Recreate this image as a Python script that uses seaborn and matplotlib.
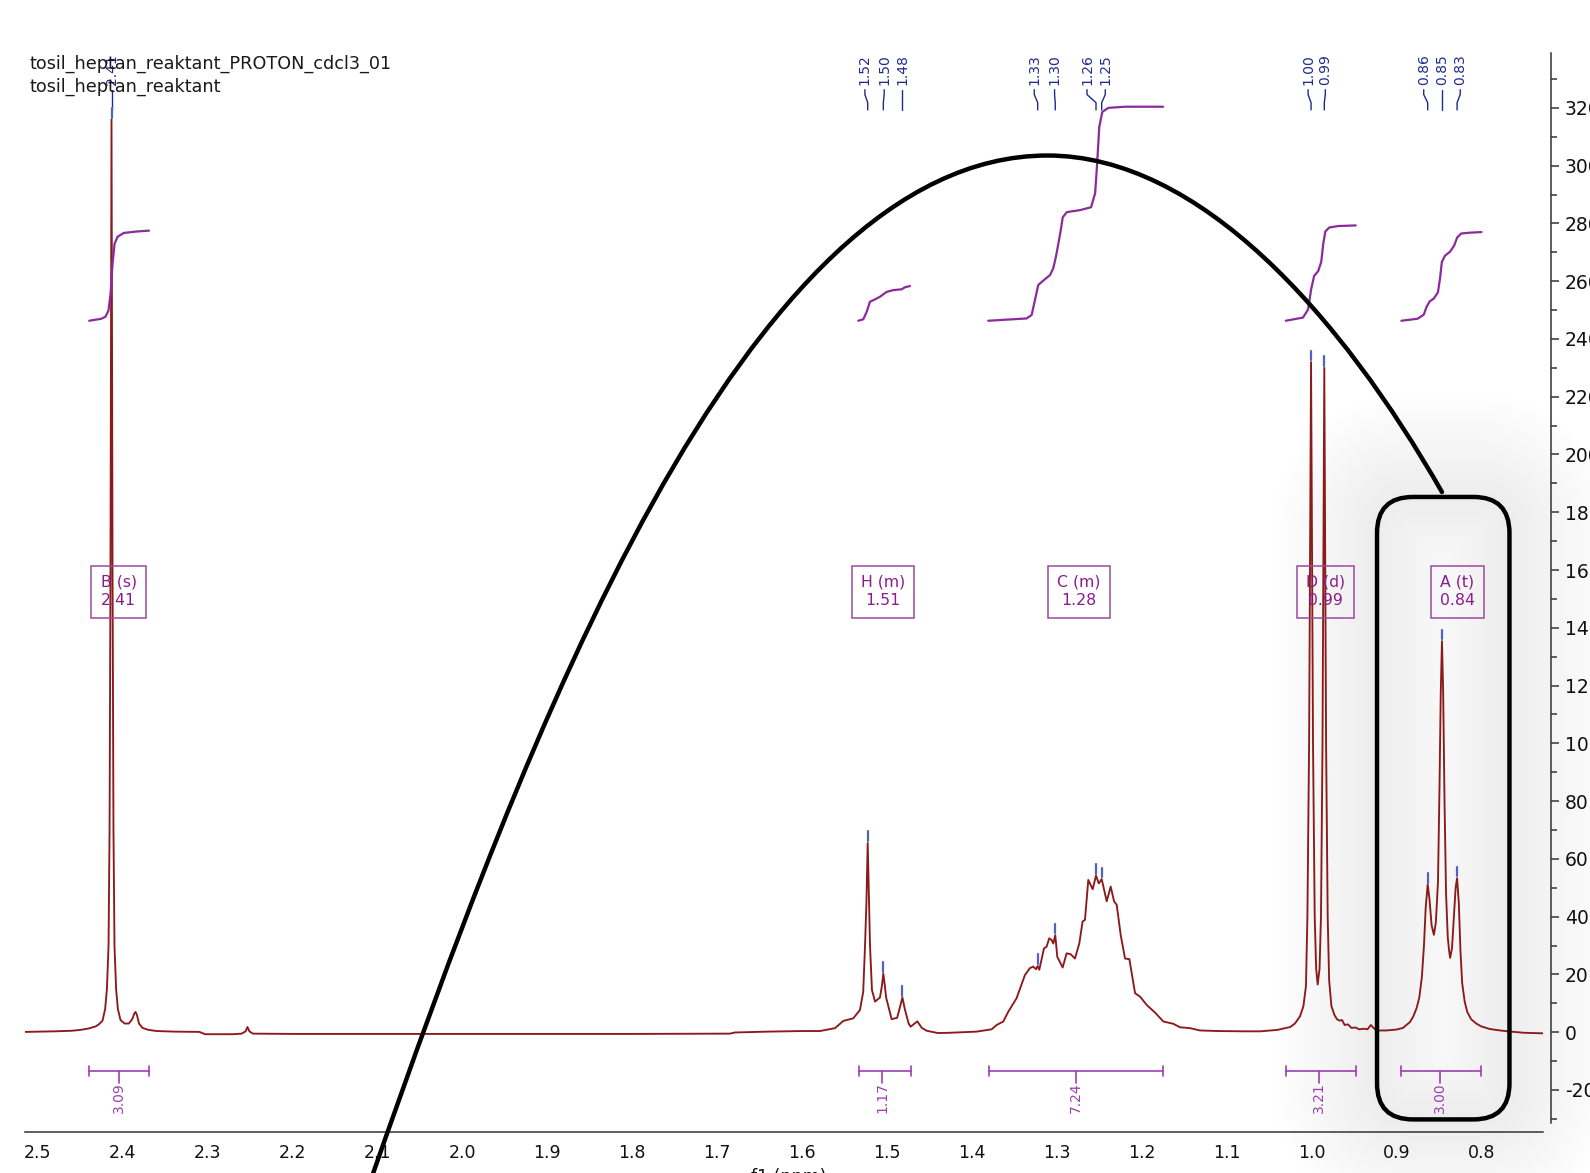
import matplotlib
matplotlib.use("Agg")
import numpy as np
import matplotlib.pyplot as plt
import seaborn as sns
from matplotlib.path import Path
from matplotlib.patches import PathPatch, FancyBboxPatch
from matplotlib.transforms import IdentityTransform
from matplotlib.ticker import MultipleLocator, FormatStrFormatter

# ---- data (ppm, intensity) ----
title_lines = ["tosil_heptan_reaktant_PROTON_cdcl3_01", "tosil_heptan_reaktant"]

spec_ppm = [
    2.515, 2.48, 2.46, 2.45, 2.44, 2.432, 2.428, 2.424, 2.4209, 2.4188, 2.4169, 2.4157, 2.4146,
    2.4134, 2.4122, 2.4111, 2.4099, 2.408, 2.4059, 2.4028, 2.398, 2.393, 2.389, 2.3865, 2.385,
    2.3835, 2.381, 2.377, 2.37, 2.36, 2.34, 2.31, 2.303, 2.27, 2.26, 2.2555, 2.2533, 2.251,
    2.247, 2.2, 2.0, 1.8, 1.685, 1.679, 1.64, 1.60,
    1.5789, 1.5612, 1.5515, 1.5397, 1.5318, 1.528, 1.5259, 1.5242, 1.5227, 1.5212, 1.5200,
    1.5177, 1.5141, 1.5083, 1.5060, 1.5043, 1.5025, 1.5010, 1.4945, 1.4880, 1.4845, 1.4818,
    1.4790, 1.4745, 1.4721, 1.4643, 1.4590, 1.4532, 1.44,
    1.4258, 1.3944, 1.3767, 1.3708, 1.3630, 1.3571, 1.3473, 1.3375, 1.3316, 1.3277, 1.3245,
    1.3225, 1.3206, 1.3151, 1.3120, 1.3089, 1.3060, 1.3041, 1.3018, 1.2994, 1.2931, 1.2884,
    1.2837, 1.2786, 1.2735, 1.2696, 1.2668, 1.2629, 1.2577, 1.2538, 1.2505, 1.2471, 1.2412,
    1.2365, 1.2325, 1.2294, 1.2247, 1.2196, 1.2145, 1.2078, 1.2019, 1.1940, 1.1843, 1.1745,
    1.1627, 1.1549, 1.1431, 1.1313, 1.11, 1.08,
    1.06, 1.04, 1.025, 1.0195, 1.0135, 1.0095, 1.0065, 1.0048, 1.0028, 1.0005, 0.9982, 0.9962,
    0.9945, 0.9927, 0.9905, 0.9888, 0.9870, 0.9849, 0.9828, 0.9809, 0.9792, 0.9765, 0.973,
    0.970, 0.967, 0.964, 0.961, 0.957, 0.953, 0.948, 0.944, 0.938, 0.934, 0.930, 0.927, 0.923,
    0.912, 0.900,
    0.892, 0.889, 0.884, 0.880, 0.876, 0.873, 0.870, 0.8675, 0.8655, 0.8631, 0.861, 0.8585,
    0.8558, 0.8535, 0.851, 0.8492, 0.8477, 0.8463, 0.8449, 0.8433, 0.8415, 0.8395, 0.838, 0.8367,
    0.8345, 0.8322, 0.8302, 0.8285, 0.8265, 0.8245, 0.8225, 0.8195, 0.8165, 0.812, 0.806,
    0.800, 0.790, 0.778, 0.765, 0.75, 0.727,
]
spec_int = [
    0.1, 0.3, 0.5, 0.8, 1.3, 2.0, 2.8, 4.0, 8.0, 15, 30, 70, 160,
    316, 160, 70, 30, 15, 8.0, 4.2, 3.0, 3.0, 4.5, 6.5, 7.0,
    6.0, 3.0, 1.5, 0.8, 0.4, 0.2, 0.1, -0.7, -0.7, -0.5, 0.3, 1.8, 0.3,
    -0.5, -0.6, -0.6, -0.6, -0.5, -0.1, 0.2, 0.4,
    0.4, 1.4, 3.9, 4.8, 7.7, 14, 29.6, 45, 65.5, 45, 30,
    14.6, 10.6, 12, 16, 20.3, 16, 12, 4.5, 5.0, 9.0, 12,
    8.0, 3.0, 1.9, 3.75, 1.5, 0.5, -0.3,
    -0.2, 0.2, 1.0, 2.5, 3.7, 7.1, 11.8, 19.8, 22.2, 22.7, 21.8,
    22.9, 21.6, 29.0, 29.6, 32.5, 31.9, 30.7, 33.6, 26.1, 22.4, 27.3,
    27.0, 25.5, 30.7, 38.3, 38.9, 52.7, 49.5, 54.2, 51.5, 53.0, 45.3,
    50.4, 45.3, 44.1, 33.6, 25.5, 25.3, 13.5, 12.3, 9.4, 6.8, 3.7,
    2.9, 1.7, 1.4, 0.6, 0.4, 0.3,
    0.3, 0.8, 1.8, 3.0, 5.5, 9.0, 16, 40, 100, 232, 100, 40,
    22, 16.5, 22, 40, 100, 230, 100, 40, 18, 9.0, 6.0,
    4.5, 4.0, 4.2, 2.5, 2.7, 1.5, 1.6, 1.0, 1.2, 1.0, 2.5, 1.5, 0.6,
    0.6, 0.9,
    1.5, 2.3, 3.5, 5.5, 8.5, 12, 19, 30, 43, 51.2, 46, 37,
    33.7, 38, 52, 85, 118, 135.4, 118, 80, 48, 33, 28.5, 25.7,
    29, 40, 50, 53.3, 45, 28, 17, 10.5, 7.0, 4.5, 3.0,
    2.0, 1.1, 0.6, 0.2, -0.2, -0.4,
]

# integral curves
intB_ppm = [2.4397, 2.4253, 2.4205, 2.4170, 2.4146, 2.4122, 2.4098, 2.4062, 2.3990, 2.3835, 2.3692]
intB_val = [246.3, 247.0, 247.7, 249.8, 255.4, 266.0, 273.0, 275.4, 276.7, 277.2, 277.5]
intH_ppm = [1.5338, 1.5279, 1.5239, 1.5200, 1.5141, 1.5083, 1.5004, 1.4926, 1.4827, 1.4788, 1.4729]
intH_val = [246.3, 246.8, 249.4, 252.9, 253.7, 254.6, 256.3, 256.9, 257.2, 257.9, 258.3]
intC_ppm = [1.3807, 1.3356, 1.3296, 1.3257, 1.3218, 1.3159, 1.3080, 1.3041, 1.3010, 1.2975,
            1.2950, 1.2930, 1.2882, 1.2727, 1.2596, 1.2548, 1.2524, 1.2500, 1.2464, 1.2393,
            1.2190, 1.1748]
intC_val = [246.3, 247.1, 248.3, 253.5, 258.7, 260.2, 262.1, 264.5, 268.5, 274.0,
            278.2, 282.1, 283.9, 284.6, 285.6, 290.5, 301.0, 313.3, 318.6, 320.0,
            320.4, 320.4]
intD_ppm = [1.0303, 1.0100, 1.0040, 1.0004, 0.9969, 0.9921, 0.9885, 0.9861, 0.9837, 0.9790,
            0.9682, 0.9479]
intD_val = [246.3, 247.4, 250.2, 257.2, 261.8, 263.5, 266.7, 273.0, 277.2, 278.6, 279.1, 279.3]
intA_ppm = [0.8941, 0.8750, 0.8678, 0.8643, 0.8607, 0.8559, 0.8511, 0.8487, 0.8464, 0.8428,
            0.8368, 0.8320, 0.8284, 0.8237, 0.8129, 0.7998]
intA_val = [246.3, 247.0, 248.4, 251.2, 253.0, 254.0, 256.1, 260.7, 266.7, 268.8,
            270.2, 272.3, 275.1, 276.5, 276.8, 277.0]

# integration ranges (bottom)
integ_lo = [2.4397, 1.5331, 1.3802, 1.0303, 0.8941]
integ_hi = [2.3692, 1.4722, 1.1748, 0.9479, 0.7998]
integ_mid = [2.4050, 1.5056, 1.2775, 0.9908, 0.8487]
integ_text = ["3.09", "1.17", "7.24", "3.21", "3.00"]

# multiplet boxes
mult_text = ["B (s)\n2.41", "H (m)\n1.51", "C (m)\n1.28", "D (d)\n0.99", "A (t)\n0.84"]
mult_ppm = [2.4050, 1.5045, 1.2739, 0.9837, 0.8284]

# peak picking
pick_text = ["2.41", "1.52", "1.50", "1.48", "1.33", "1.30", "1.26", "1.25",
             "1.00", "0.99", "0.86", "0.85", "0.83"]
pick_ppm = [2.4134, 1.5227, 1.5043, 1.4818, 1.3225, 1.3018, 1.2538, 1.2471,
            1.0005, 0.9849, 0.8631, 0.8463, 0.8285]
pick_height = [316, 65.5, 20.3, 12, 22.9, 33.6, 54.2, 53.0, 232, 230, 51.2, 135.4, 53.3]
pick_label_ppm = [2.4134, 1.5260, 1.5033, 1.4818, 1.3265, 1.3026, 1.2644, 1.2429,
                  1.0040, 0.9837, 0.8678, 0.8463, 0.8248]

# hand-drawn highlight (bezier control points) and highlight box, in data units
arc_ppm = [2.1064, 1.9273, 1.6693, 1.3109, 1.1318, 0.9658, 0.8463]
arc_val = [-49.8, 100.7, 303.5, 303.5, 303.5, 248.4, 187.0]
box_ppm = [0.9228, 0.7668]
box_val = [185.3, -30.2]

# ---- styling ----
SPEC_COLOR = "#8b1a1a"
INT_COLOR = "#8b2a9a"
BAR_COLOR = "#9c3faf"
MULT_COLOR = "#8b1c8b"
PICK_COLOR = "#1f2a8c"
MARK_COLOR = "#5063c4"
AXIS_COLOR = "#333333"

sns.set_theme(style="white")
plt.rcParams["font.family"] = ["DejaVu Sans"]
plt.rcParams["axes.unicode_minus"] = False

W, H = 1590, 1173
fig = plt.figure(figsize=(W / 100, H / 100), dpi=100)
fig.patch.set_facecolor("white")
ax = fig.add_axes([25 / W, (H - 1122.6) / H, 1518 / W, (1122.6 - 52.7) / H])
ax.set_facecolor("none")

sns.lineplot(x=spec_ppm, y=spec_int, ax=ax, color=SPEC_COLOR, lw=1.35,
             sort=False, estimator=None, zorder=3)
for cx, cy in [(intB_ppm, intB_val), (intH_ppm, intH_val), (intC_ppm, intC_val),
               (intD_ppm, intD_val), (intA_ppm, intA_val)]:
    sns.lineplot(x=cx, y=cy, ax=ax, color=INT_COLOR, lw=1.6, sort=False,
                 estimator=None, zorder=4)

ax.set_xlim(2.5153, 0.7273)
ax.set_ylim(-31.3, 339.1)
ax.set_xlabel("")
ax.set_ylabel("")

# axes look (right y axis, bottom x axis, outward)
for s in ["top", "left"]:
    ax.spines[s].set_visible(False)
ax.spines["right"].set_position(("outward", 5.8))
ax.spines["bottom"].set_position(("outward", 6.8))
for s in ["right", "bottom"]:
    ax.spines[s].set_color(AXIS_COLOR)
    ax.spines[s].set_linewidth(1.1)
ax.yaxis.tick_right()
ax.xaxis.set_major_locator(MultipleLocator(0.1))
ax.xaxis.set_minor_locator(MultipleLocator(0.05))
ax.xaxis.set_major_formatter(FormatStrFormatter("%.1f"))
ax.yaxis.set_major_locator(MultipleLocator(20))
ax.yaxis.set_minor_locator(MultipleLocator(10))
ax.tick_params(axis="both", which="both", direction="out", color=AXIS_COLOR,
               labelcolor="#111111", labelsize=12.5, width=1.1)
ax.tick_params(axis="both", which="major", length=5.5, pad=3)
ax.tick_params(axis="both", which="minor", length=4)
ax.tick_params(axis="y", which="both", left=False, right=True)
ax.tick_params(axis="y", which="major", labelsize=13.5, pad=4.5)
ax.grid(False)

fig.text(789 / W, (H - 1177) / H, "f1 (ppm)", ha="center", va="center",
         fontsize=12.5, color="#111111")
for i, line in enumerate(title_lines):
    fig.text(29.5 / W, (H - 64 - 23 * i) / H, line, ha="left", va="center",
             fontsize=12.7, color="#1a1a1a")

# peak picking labels, connectors, markers
for t, pp, ph, lp in zip(pick_text, pick_ppm, pick_height, pick_label_ppm):
    ax.text(lp, 327.9, t, rotation=90, ha="center", va="bottom", fontsize=10,
            color=PICK_COLOR, clip_on=False, zorder=6)
    ax.plot([lp, lp, pp, pp], [326.3, 324.6, 321.8, 319.3], color=PICK_COLOR,
            lw=1.0, clip_on=False, zorder=6)
    ax.plot([pp, pp], [ph + 0.6, ph + 4.0], color=MARK_COLOR, lw=1.6, zorder=6)

# multiplet boxes
for t, mp in zip(mult_text, mult_ppm):
    ax.text(mp, 152.5, t, ha="center", va="center", multialignment="center",
            fontsize=11.3, color=MULT_COLOR, linespacing=1.3, zorder=5,
            bbox=dict(boxstyle="square,pad=0.58", fc="none", ec="#9b4a9b", lw=1.1))

# integration bars
for lo, hi, mid, t in zip(integ_lo, integ_hi, integ_mid, integ_text):
    ax.plot([lo, hi], [-13.3, -13.3], color=BAR_COLOR, lw=1.2, zorder=5)
    ax.plot([lo, lo], [-11.6, -15.0], color=BAR_COLOR, lw=1.2, zorder=5)
    ax.plot([hi, hi], [-11.6, -15.0], color=BAR_COLOR, lw=1.2, zorder=5)
    ax.plot([mid, mid], [-13.3, -17.5], color=BAR_COLOR, lw=1.2, zorder=5)
    ax.text(mid, -22.8, t, rotation=90, ha="center", va="center", fontsize=10,
            color=BAR_COLOR, zorder=5)

# highlight box with soft shadow (pixel space so the corners stay round)
(x0, y0), (x1, y1) = ax.transData.transform([(box_ppm[0], box_val[1]), (box_ppm[1], box_val[0])])
for lw in np.linspace(8, 150, 18):
    ax.add_patch(FancyBboxPatch((x0, y0), x1 - x0, y1 - y0,
                                boxstyle="round,pad=0,rounding_size=36",
                                transform=IdentityTransform(), fill=False,
                                ec="black", alpha=0.0055, lw=lw, clip_on=False,
                                zorder=0.5, joinstyle="round"))
ax.add_patch(FancyBboxPatch((x0, y0), x1 - x0, y1 - y0,
                            boxstyle="round,pad=0,rounding_size=36",
                            transform=IdentityTransform(), fill=False,
                            ec="black", lw=3.2, clip_on=False, zorder=10))

# hand-drawn arc
arc_codes = [Path.MOVETO] + [Path.CURVE4] * 6
arc = PathPatch(Path(list(zip(arc_ppm, arc_val)), arc_codes), fill=False,
                ec="black", lw=3.2, capstyle="round", clip_on=False, zorder=11)
ax.add_patch(arc)

fig.savefig("out.png", dpi=100)
